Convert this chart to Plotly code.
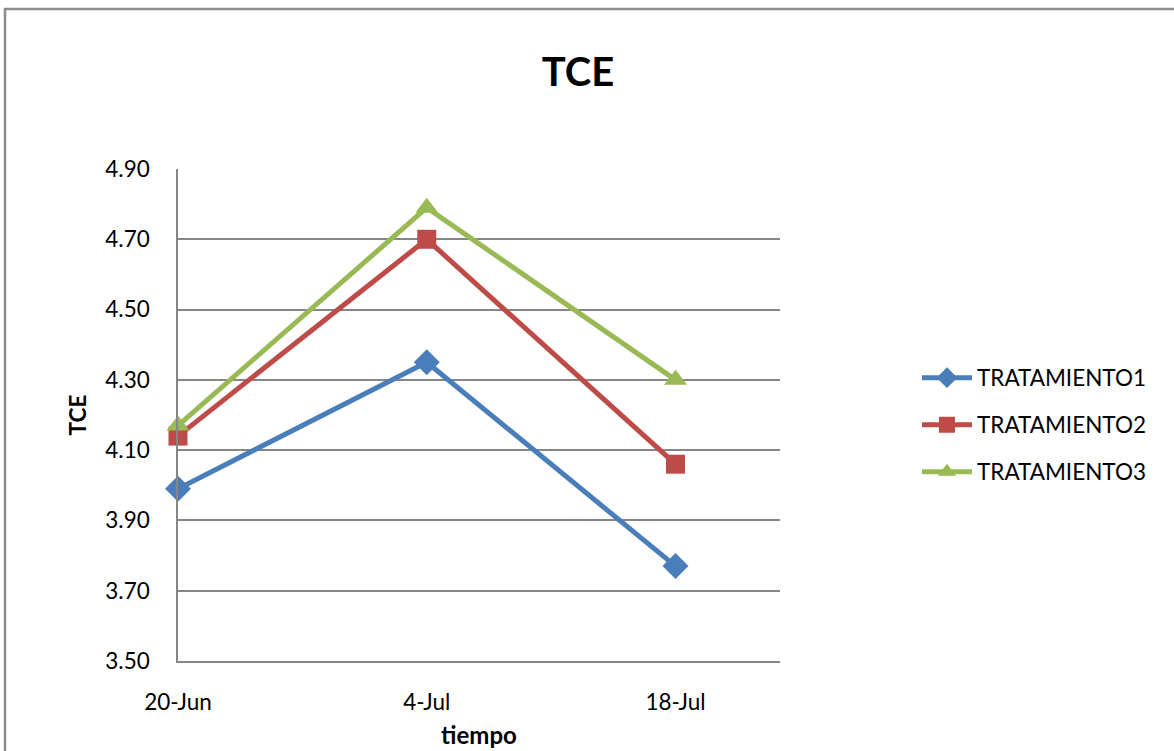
import plotly.graph_objects as go

# Sampling dates and TCE values per treatment
fechas = ["20-Jun", "4-Jul", "18-Jul"]
tratamiento1 = [3.99, 4.35, 3.77]
tratamiento2 = [4.14, 4.70, 4.06]
tratamiento3 = [4.17, 4.79, 4.30]
y_ticks = [3.50, 3.70, 3.90, 4.10, 4.30, 4.50, 4.70, 4.90]

W, H = 1174, 751
L, R, T, B = 178, 780, 169, 661  # plot area in pixels

def px_x(p):
    return (p - L) / (R - L)

def px_y(p):
    return (B - p) / (B - T)

FONT = "Lato, Carlito, Calibri, sans-serif"
GRID = "#868686"
FS = 22.5

series = [
    ("TRATAMIENTO1", tratamiento1, "#4a7ebb", "diamond", 20, "legend"),
    ("TRATAMIENTO2", tratamiento2, "#be4b48", "square", 19, "legend2"),
    ("TRATAMIENTO3", tratamiento3, "#98b954", "triangle-up", 20, "legend3"),
]

x_idx = list(range(len(fechas)))
fig = go.Figure()
for name, vals, color, sym, size, leg in series:
    fig.add_trace(go.Scatter(
        x=x_idx, y=vals, name=name, mode="lines+markers",
        line=dict(color=color, width=5),
        marker=dict(symbol=sym, size=size, color=color, line=dict(width=0)),
        legend=leg, showlegend=True, cliponaxis=False,
    ))

legend_rows = [378, 425, 472]
legend_common = dict(
    font=dict(family=FONT, size=FS, color="#000000"),
    bgcolor="rgba(0,0,0,0)", xanchor="left", yanchor="middle",
    itemwidth=50, visible=True,
)

fig.update_layout(
    width=W, height=H,
    showlegend=True,
    margin=dict(l=L, r=W - R, t=T, b=H - B),
    paper_bgcolor="white", plot_bgcolor="white",
    font=dict(family=FONT, size=FS, color="#000000"),
    title=dict(text="<b>TCE</b>", x=px_x(578), xref="paper", xanchor="center",
               y=1 - 72 / H, yanchor="middle",
               font=dict(family=FONT, size=40, color="#000000")),
    xaxis=dict(
        range=[0, 2.42], tickvals=x_idx, ticktext=fechas,
        showgrid=False, zeroline=False, showline=True, linecolor=GRID, linewidth=1.5,
        ticks="", ticklabelstandoff=20, automargin=False,
        tickfont=dict(family=FONT, size=FS),
        title=dict(text="<b>tiempo</b>", font=dict(family=FONT, size=24), standoff=13),
    ),
    yaxis=dict(
        range=[3.50, 4.90], tickvals=y_ticks, tickformat=".2f",
        showgrid=True, gridcolor=GRID, gridwidth=1.5, zeroline=False,
        showline=True, linecolor=GRID, linewidth=1.5, ticks="",
        ticklabelstandoff=22, automargin=False,
        tickfont=dict(family=FONT, size=FS),
        title=dict(text="<b>TCE</b>", font=dict(family=FONT, size=FS), standoff=12),
    ),
    legend=dict(x=px_x(917), y=px_y(legend_rows[0]), **legend_common),
    legend2=dict(x=px_x(917), y=px_y(legend_rows[1]), **legend_common),
    legend3=dict(x=px_x(917), y=px_y(legend_rows[2]), **legend_common),
    shapes=[
        dict(type="rect", xref="paper", yref="paper",
             x0=px_x(5), y0=px_y(H + 40), x1=px_x(W + 40), y1=px_y(9),
             line=dict(color="#8c8c8c", width=2.5), layer="below"),
    ],
)

fig.write_html("out.html")
